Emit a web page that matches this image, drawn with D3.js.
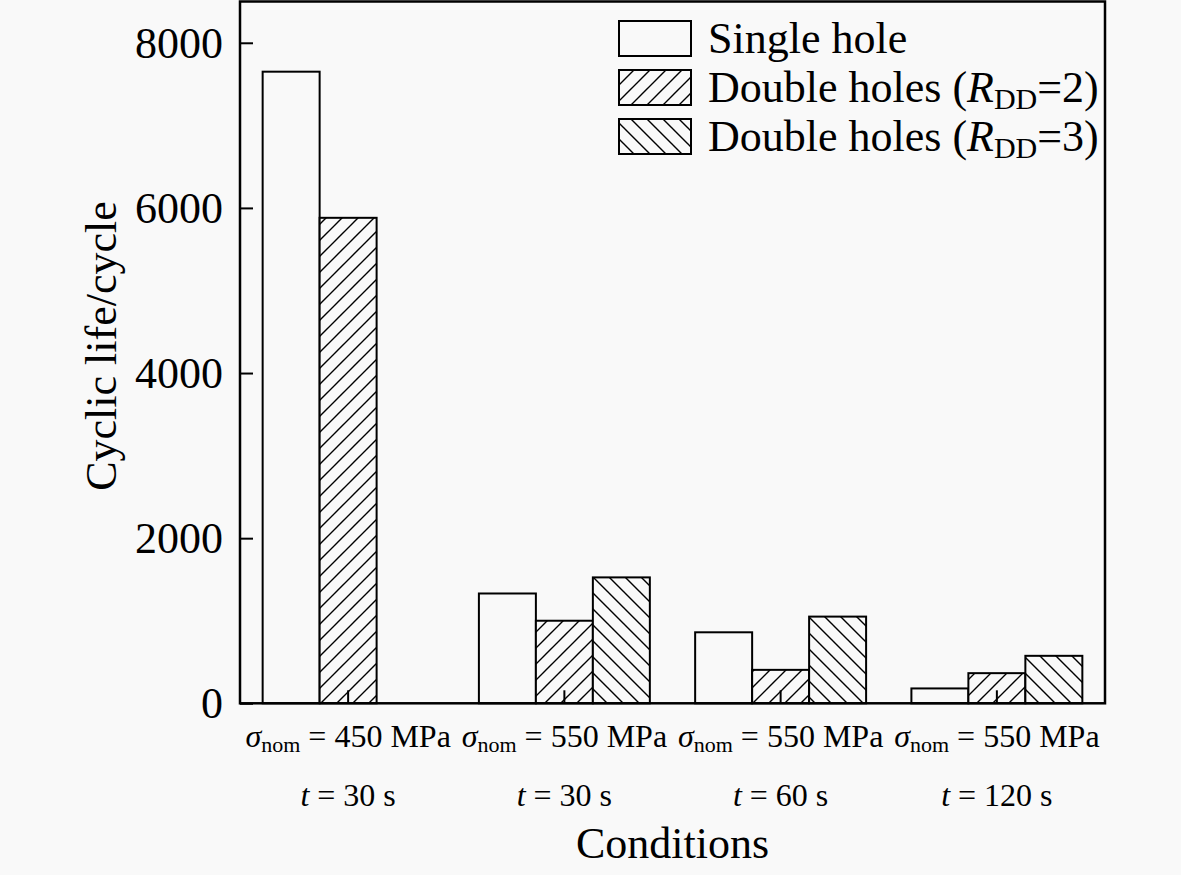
<!DOCTYPE html>
<html>
<head>
<meta charset="utf-8">
<script src="https://cdn.jsdelivr.net/npm/d3@7/dist/d3.min.js"></script>
<style>
html,body{margin:0;padding:0;background:#f9f9f9;}
svg{display:block;}
text{font-family:"Liberation Serif","Times New Roman",serif;fill:#000;}
</style>
</head>
<body>
<script>
// ---- data ----
const categories = ["450_30", "550_30", "550_60", "550_120"];
const stressLabels = ["450", "550", "550", "550"];
const timeLabels = ["30", "30", "60", "120"];
const seriesNames = ["Single hole", "Double holes (R_DD=2)", "Double holes (R_DD=3)"];
const singleHole = [7650, 1330, 860, 180];
const doubleHolesR2 = [5880, 1000, 405, 365];
const doubleHolesR3 = [null, 1525, 1050, 575];
const yTicks = [0, 2000, 4000, 6000, 8000];

const W = 1181, H = 875;
const m = {left: 240, right: 1105, top: 1.5, bottom: 703.3};

const svg = d3.select("body").append("svg").attr("width", W).attr("height", H);
svg.append("rect").attr("width", W).attr("height", H).attr("fill", "#f9f9f9");

const defs = svg.append("defs");
function hatch(id, dir) {
  const p = defs.append("pattern").attr("id", id)
    .attr("patternUnits", "userSpaceOnUse").attr("width", 16).attr("height", 16);
  p.append("rect").attr("width", 16).attr("height", 16).attr("fill", "#f9f9f9");
  const d = dir > 0
    ? "M0,16 L16,0 M-4,4 L4,-4 M12,20 L20,12"
    : "M0,0 L16,16 M-4,12 L4,20 M12,-4 L20,4";
  p.append("path").attr("d", d).attr("stroke", "#000").attr("stroke-width", 1.4);
}
hatch("hatchR2", 1);
hatch("hatchR3", -1);
const fills = ["#f9f9f9", "url(#hatchR2)", "url(#hatchR3)"];
const seriesData = [singleHole, doubleHolesR2, doubleHolesR3];

const x = d3.scaleBand().domain(categories).range([m.left, m.right]).padding(0);
const y = d3.scaleLinear().domain([0, 8500]).range([m.bottom, m.top]);
const barW = x.bandwidth() * 0.2635;

// bars
seriesData.forEach((vals, si) => {
  svg.append("g").selectAll("rect")
    .data(categories.map((c, i) => ({c, v: vals[i]})).filter(d => d.v != null))
    .join("rect")
    .attr("x", d => x(d.c) + x.bandwidth() / 2 + (si - 1.5) * barW)
    .attr("y", d => y(d.v))
    .attr("width", barW)
    .attr("height", d => y(0) - y(d.v))
    .attr("fill", fills[si])
    .attr("stroke", "#000")
    .attr("stroke-width", 2);
});

// y axis
const yAxis = d3.axisLeft(y).tickValues(yTicks).tickSizeInner(-13).tickSizeOuter(0).tickPadding(17).tickFormat(d3.format("d"));
const gy = svg.append("g").attr("transform", `translate(${m.left},0)`).call(yAxis);
gy.select(".domain").remove();
gy.selectAll(".tick line").attr("stroke", "#000").attr("stroke-width", 2);
gy.selectAll(".tick text").attr("font-size", 44).attr("font-family", "Liberation Serif").attr("dy", "0.33em");

// x axis ticks
const xAxis = d3.axisBottom(x).tickSizeInner(-13).tickSizeOuter(0).tickFormat("");
const gx = svg.append("g").attr("transform", `translate(0,${m.bottom})`).call(xAxis);
gx.select(".domain").remove();
gx.selectAll(".tick line").attr("stroke", "#000").attr("stroke-width", 2);

// frame
svg.append("rect").attr("x", m.left).attr("y", m.top)
  .attr("width", m.right - m.left).attr("height", m.bottom - m.top)
  .attr("fill", "none").attr("stroke", "#000").attr("stroke-width", 2.5);

// x tick labels
categories.forEach((c, i) => {
  const cx = x(c) + x.bandwidth() / 2;
  const t1 = svg.append("text").attr("x", cx).attr("y", 747).attr("text-anchor", "middle").attr("font-size", 32);
  t1.append("tspan").attr("font-style", "italic").text("σ");
  t1.append("tspan").attr("font-size", 22).attr("dy", 5).text("nom");
  t1.append("tspan").attr("dy", -5).text(" = " + stressLabels[i] + " MPa");
  const t2 = svg.append("text").attr("x", cx).attr("y", 806).attr("text-anchor", "middle").attr("font-size", 32);
  t2.append("tspan").attr("font-style", "italic").text("t");
  t2.append("tspan").text(" = " + timeLabels[i] + " s");
});

// axis titles
svg.append("text").attr("x", (m.left + m.right) / 2).attr("y", 858)
  .attr("text-anchor", "middle").attr("font-size", 44).text("Conditions");
svg.append("text").attr("transform", `translate(116,346) rotate(-90)`)
  .attr("text-anchor", "middle").attr("font-size", 44).text("Cyclic life/cycle");

// legend
const lg = svg.append("g");
const legendY = [21, 70, 119];
seriesNames.forEach((name, i) => {
  lg.append("rect").attr("x", 619).attr("y", legendY[i]).attr("width", 72).attr("height", 35)
    .attr("fill", fills[i]).attr("stroke", "#000").attr("stroke-width", 2);
  const t = lg.append("text").attr("x", 708).attr("y", legendY[i] + 32).attr("font-size", 44);
  if (i === 0) {
    t.text(name);
  } else {
    t.append("tspan").text("Double holes (");
    t.append("tspan").attr("font-style", "italic").text("R");
    t.append("tspan").attr("font-size", 30).attr("dy", 7).text("DD");
    t.append("tspan").attr("dy", -7).text("=" + (i + 1) + ")");
  }
});
</script>
</body>
</html>
